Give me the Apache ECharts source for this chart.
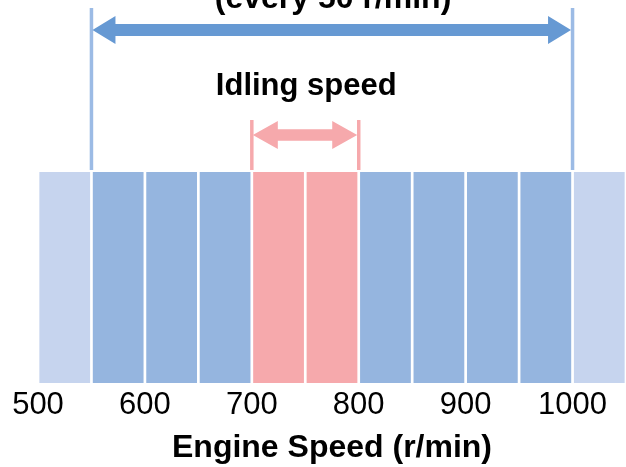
<!DOCTYPE html>
<html>
<head>
<meta charset="utf-8">
<script src="https://cdn.jsdelivr.net/npm/echarts@6/dist/echarts.min.js"></script>
<style>
  html, body { margin: 0; padding: 0; background: #ffffff; }
  #chart { width: 626px; height: 467px; }
</style>
</head>
<body>
<div id="chart"></div>
<script>
// ---- data ----
var binStarts = [500, 550, 600, 650, 700, 750, 800, 850, 900, 950, 1000];
var binZones  = ['outer', 'range', 'range', 'range', 'idle', 'idle', 'range', 'range', 'range', 'range', 'outer'];
var binWidth = 50;
var tickValues = [500, 600, 700, 800, 900, 1000];
var rangeStarts = [550, 700];
var rangeEnds   = [1000, 800];
var rangeLabels = ['(every 50 r/min)', 'Idling speed'];
var rangeKinds  = ['range', 'idle'];
var axisTitle = 'Engine Speed (r/min)';

// ---- styles ----
var zoneColors = { outer: '#C6D4EE', range: '#95B5DF', idle: '#F6A9AC' };
var arrowColors = { range: '#6699D3', idle: '#F6A9AC' };
var guideColors = { range: '#9CBBE5', idle: '#F6A9AC' };
// layout of annotations (pixel y positions)
var annoLayout = {
  range: { arrowY: 30, lineTop: 8, labelY: -1, shaft: 12, headLen: 23, headHalf: 14, font: 32 },
  idle:  { arrowY: 135, lineTop: 120, labelY: 86, shaft: 11.5, headLen: 25, headHalf: 14, font: 31 }
};

var barData = binStarts.map(function (s, i) { return [s, s + binWidth, binZones[i]]; });
var annoData = rangeStarts.map(function (s, i) { return [s, rangeEnds[i], rangeLabels[i], rangeKinds[i]]; });

var chart = echarts.init(document.getElementById('chart'), null, { renderer: 'canvas' });

function renderBar(params, api) {
  var a = api.coord([api.value(0), 1]);
  var b = api.coord([api.value(1), 0]);
  var gap = 1.35;
  var zone = barData[params.dataIndex][2];
  return {
    type: 'rect',
    shape: { x: a[0] + gap, y: a[1], width: b[0] - a[0] - 2 * gap, height: b[1] - a[1] },
    style: { fill: zoneColors[zone] }
  };
}

function renderAnno(params, api) {
  var d = annoData[params.dataIndex];
  var kind = d[3];
  var L = annoLayout[kind];
  var p1 = api.coord([d[0], 1]);
  var p2 = api.coord([d[1], 1]);
  var top = p1[1];
  var x1 = p1[0], x2 = p2[0];
  var yc = L.arrowY, t = L.shaft / 2, hl = L.headLen, hh = L.headHalf;
  var tip1 = x1 + 1, tip2 = x2 - 1.5;
  var pts = [
    [tip1, yc], [tip1 + hl, yc - hh], [tip1 + hl, yc - t], [tip2 - hl, yc - t],
    [tip2 - hl, yc - hh], [tip2, yc], [tip2 - hl, yc + hh], [tip2 - hl, yc + t],
    [tip1 + hl, yc + t], [tip1 + hl, yc + hh]
  ];
  return {
    type: 'group',
    children: [
      { type: 'line', shape: { x1: x1, y1: L.lineTop, x2: x1, y2: top - 2 },
        style: { stroke: guideColors[kind], lineWidth: 3.5 } },
      { type: 'line', shape: { x1: x2, y1: L.lineTop, x2: x2, y2: top - 2 },
        style: { stroke: guideColors[kind], lineWidth: 3.5 } },
      { type: 'polygon', shape: { points: pts }, style: { fill: arrowColors[kind] } },
      { type: 'text', x: (x1 + x2) / 2 + 1, y: L.labelY,
        style: { text: d[2], fill: '#000000', font: 'bold ' + L.font + 'px "Liberation Sans", Arial, sans-serif',
                 align: 'center', verticalAlign: 'middle' } }
    ]
  };
}

chart.setOption({
  animation: false,
  backgroundColor: '#ffffff',
  grid: { left: 38, width: 589, top: 172, height: 211, containLabel: false },
  xAxis: {
    type: 'value', min: 500, max: 1050, interval: 100,
    axisLine: { show: false }, axisTick: { show: false }, splitLine: { show: false },
    axisLabel: {
      show: true, margin: 7,
      color: '#000000', fontSize: 31, fontFamily: '"Liberation Sans", Arial, sans-serif',
      customValues: tickValues,
      formatter: function (v) { return String(v); }
    },
    name: axisTitle, nameLocation: 'middle', nameGap: 49,
    nameTextStyle: { color: '#000000', fontSize: 32, fontWeight: 'bold', fontFamily: '"Liberation Sans", Arial, sans-serif' }
  },
  yAxis: { type: 'value', min: 0, max: 1, show: false },
  series: [
    { type: 'custom', renderItem: renderBar, data: barData, encode: { x: [0, 1] }, silent: true },
    { type: 'custom', renderItem: renderAnno, data: annoData, encode: { x: [0, 1] }, clip: false, silent: true }
  ]
});
</script>
</body>
</html>
